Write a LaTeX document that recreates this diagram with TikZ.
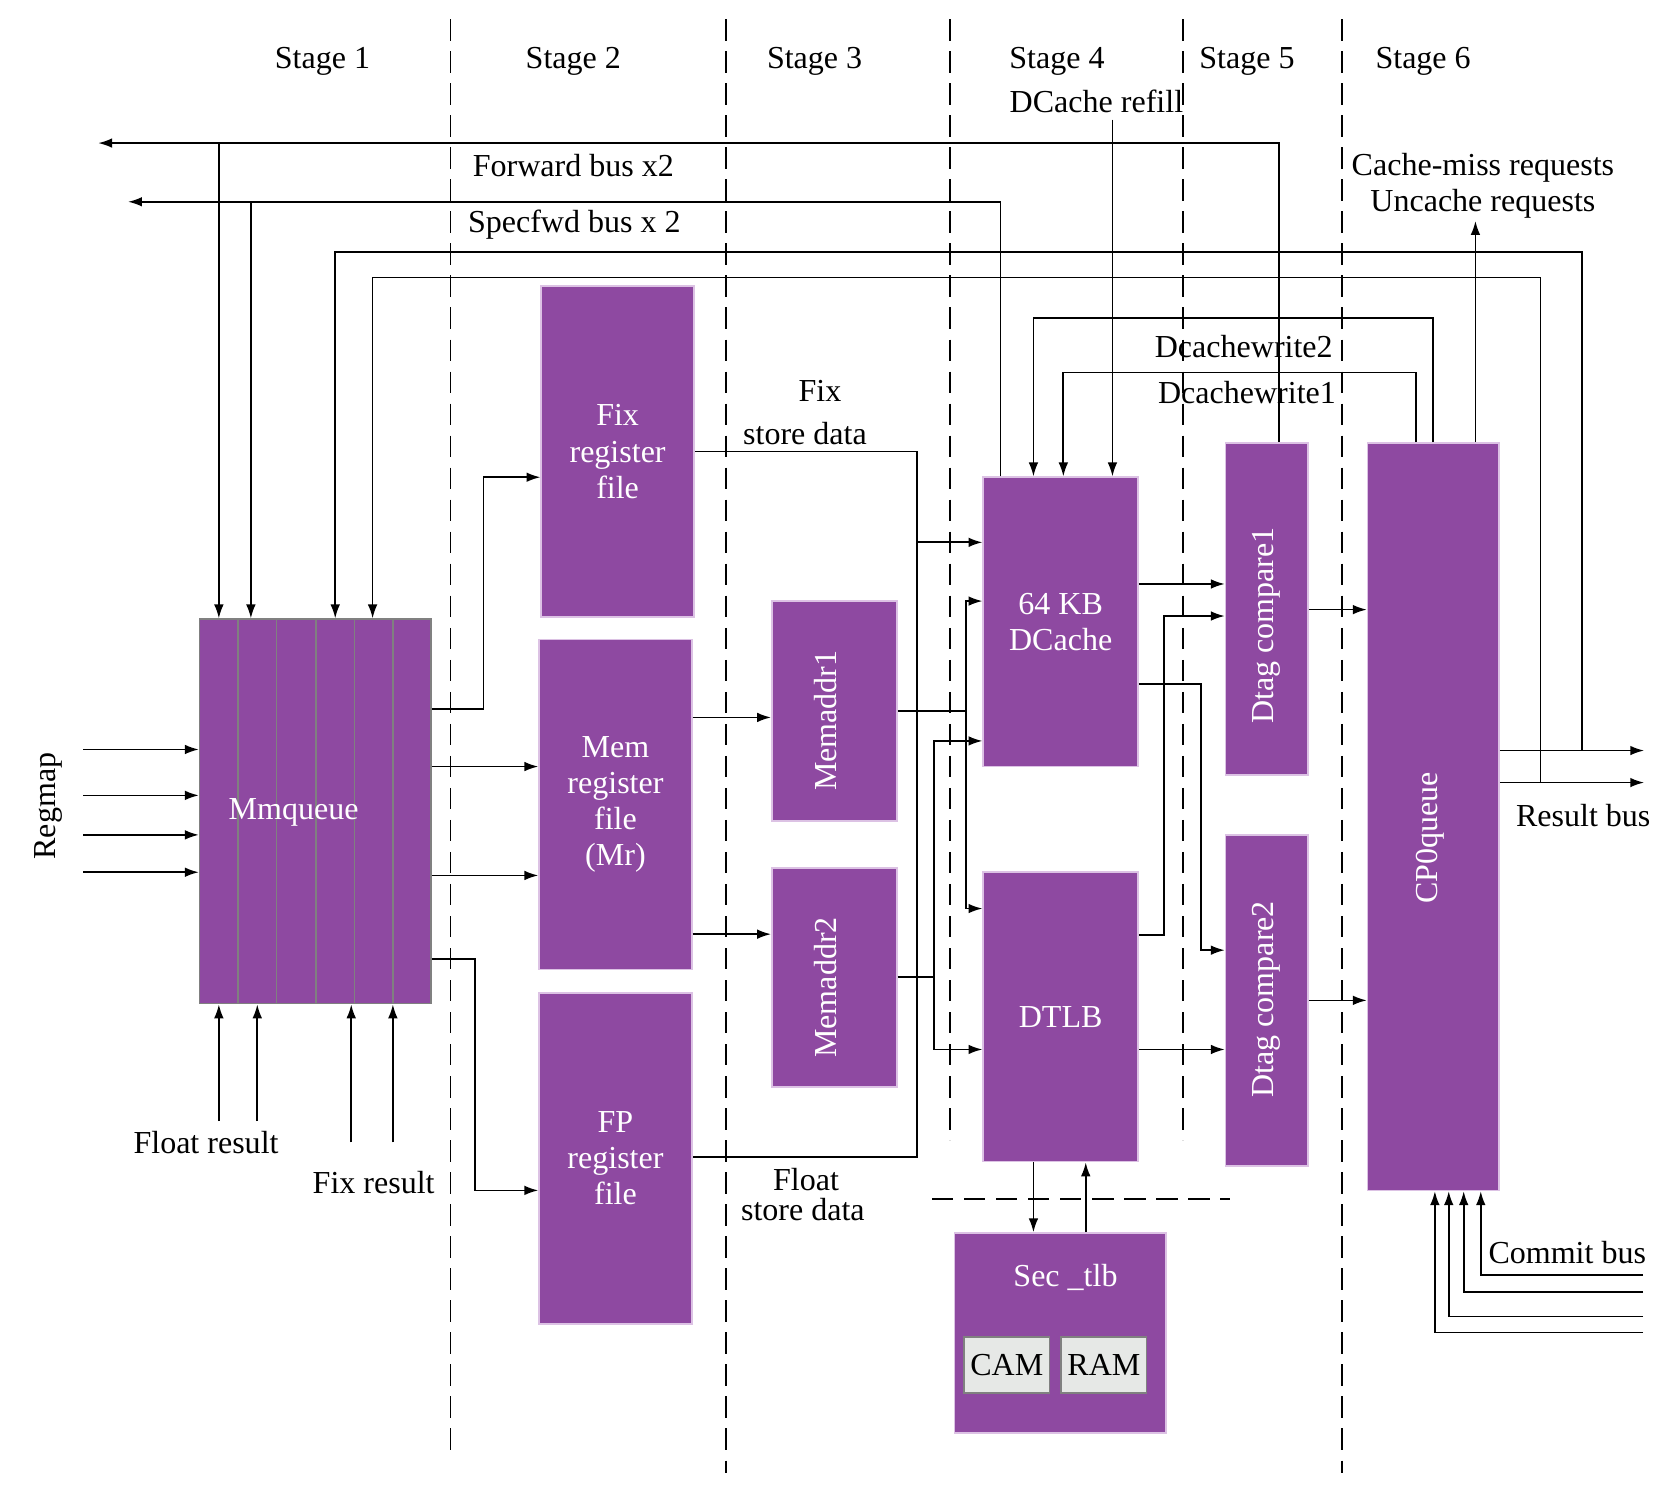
\documentclass[tikz,border=0pt]{standalone}
\usepackage{fontspec}
\setmainfont{Liberation Serif}
\usepackage{graphicx}
\usetikzlibrary{arrows.meta, positioning, calc}
\definecolor{boxpurple}{HTML}{8E49A1}
\definecolor{boxedge}{HTML}{DCC2E4}
\definecolor{cellgray}{HTML}{E6E8E6}

\begin{document}
\begin{tikzpicture}[
    x=0.5pt, y=-0.5pt,
    every node/.style={font=\fontsize{15}{17}\selectfont},
    box/.style 2 args={rectangle, draw=boxedge, line width=0.8pt, fill=boxpurple,
                       text=white, align=center, inner sep=0pt,
                       minimum width=#1*0.5pt, minimum height=#2*0.5pt},
    cell/.style={rectangle, draw=gray, line width=0.8pt, fill=cellgray, inner sep=0pt,
                 minimum width=40pt, minimum height=26.5pt},
    arr/.style={-{Latex[length=6.5pt,width=4.5pt]}, line width=0.8pt},
    wire/.style={line width=0.8pt},
    stagesep/.style={dash pattern=on 10pt off 5pt, line width=0.7pt},
    whitetxt/.style={text=white}
]
\useasboundingbox (0,0) rectangle (1568,1398);

% stage separators
\foreach \x/\yb in {422/1360, 680/1380, 890/1068, 1108/1068, 1257/1380}
    \draw[stagesep] (\x,18) -- (\x,\yb);
\draw[stagesep] (873,1123) -- (1152,1123);

\foreach \n/\x in {1/302, 2/537, 3/763, 4/990, 5/1168, 6/1333}
    \node (stage\n) at (\x,57) {Stage \n};

% blocks
\node[box={217}{360}, draw=gray] (mmq) at (295.5,760) {};
\foreach \x in {223,259,296,332,368}
    \draw[gray, line width=0.8pt] (mmq.north -| \x,0) -- (mmq.south -| \x,0);
\node[whitetxt] (mmqtxt) at (275,761) {Mmqueue};

\node[box={143}{310}] (fixrf)  at (578.5,423)  {Fix\\register\\file};
\node[box={143}{309}] (memrf)  at (576.5,753.5) {Mem\\register\\file\\(Mr)};
\node[box={143}{310}] (fprf)   at (576.5,1085) {FP\\register\\file};
\node[box={117}{206}] (maddr1) at (781.5,666)  {};
\node[box={117}{205}] (maddr2) at (781.5,915.5) {};
\node[box={145}{271}] (dcache) at (993.5,582.5) {64 KB\\DCache};
\node[box={145}{271}] (dtlb)   at (993.5,952.5) {DTLB};
\node[box={77}{311}]  (dtag1)  at (1186.5,570.5) {};
\node[box={77}{310}]  (dtag2)  at (1186.5,937) {};
\node[box={123}{700}] (cp0q)   at (1342.5,765) {};
\node[box={198}{187}] (sectlb) at (993,1248.5) {};
\node[cell] (cam) at (943,1278.5)  {CAM};
\node[cell] (ram) at (1034,1278.5) {RAM};

\node[whitetxt, rotate=90] (maddr1txt) at (773,675) {Memaddr1};
\node[whitetxt, rotate=90] (maddr2txt) at (773,925) {Memaddr2};
\node[whitetxt, rotate=90] (dtag1txt) at (1186,586) {Dtag compare1};
\node[whitetxt, rotate=90] (dtag2txt) at (1186,936) {Dtag compare2};
\node[whitetxt, rotate=90] (cp0qtxt)  at (1340,785) {CP0queue};
\node[whitetxt] (sectlbtxt) at (998,1197) {Sec \_tlb};

% labels
\node (refilltxt) at (1027,95)  {DCache refill};
\node (fwdtxt)    at (537,155)  {Forward bus x2};
\node (spftxt)    at (538,210)  {Specfwd bus x 2};
\node (fixsd1)    at (768,366)  {Fix};
\node (fixsd2)    at (754,406)  {store data};
\node (fltsd1)    at (755,1105) {Float};
\node (fltsd2)    at (752,1133) {store data};
\node (dcw2txt)   at (1165,325) {Dcachewrite2};
\node (dcw1txt)   at (1168,368) {Dcachewrite1};
\node[align=center, font=\fontsize{15}{16.5}\selectfont] (reqtxt) at (1389,174)
    {Cache-miss requests\\Uncache requests};
\node (restxt)    at (1483,764) {Result bus};
\node (committxt) at (1468,1173) {Commit bus};
\node (fltres)    at (193,1070) {Float result};
\node (fixres)    at (350,1108) {Fix result};
\node[rotate=90] (regmaptxt) at (45,755) {Regmap};

% buses at the top
\coordinate (fwdend) at (92,134);
\coordinate (spfend) at (120,189);
\coordinate (fwdtap) at (205,134);
\coordinate (spftap) at (235,189);
\draw[arr] (dtag1.north -| 1198,0) |- (fwdend);
\draw[arr] (dcache.north -| 937,0) |- (spfend);
\draw[arr] (fwdtap) -- (mmq.north -| fwdtap);
\draw[arr] (spftap) -- (mmq.north -| spftap);

% result bus
\coordinate (res1) at (1540,703);
\coordinate (res2) at (1540,733);
\coordinate (restap1) at (1482,703);
\coordinate (restap2) at (1443,733);
\draw[arr] (cp0q.east |- res1) -- (res1);
\draw[arr] (cp0q.east |- res2) -- (res2);
\draw[arr] (restap1) |- (314,236) -- (mmq.north -| 314,0);
\draw[arr] (restap2) |- (349,260) -- (mmq.north -| 349,0);

% dcache writes, refill, requests
\coordinate (refill) at (1042,112);
\coordinate (reqend) at (1382,207);
\draw[arr] (cp0q.north -| 1342,0) |- (968,298) -- (dcache.north -| 968,0);
\draw[arr] (cp0q.north -| 1326,0) |- (996,349) -- (dcache.north -| 996,0);
\draw[arr] (refill) -- (dcache.north -| refill);
\draw[arr] (cp0q.north -| reqend) -- (reqend);

% regmap and results into mmqueue
\foreach \y [count=\i] in {702,745,782,817} {
    \coordinate (rm\i) at (78,\y);
    \draw[arr] (rm\i) -- (mmq.west |- rm\i);
}
\foreach \x/\yb [count=\i] in {205/1050, 241/1050, 329/1070, 368/1070} {
    \coordinate (wb\i) at (\x,\yb);
    \draw[arr] (wb\i) -- (mmq.south -| wb\i);
}

% mmqueue to register files
\draw[arr] (mmq.east |- 0,664) -| (453,447) -- (fixrf.west |- 0,447);
\draw[arr] (mmq.east |- 0,718) -- (memrf.west |- 0,718);
\draw[arr] (mmq.east |- 0,820) -- (memrf.west |- 0,820);
\draw[arr] (mmq.east |- 0,898) -| (445,1115) -- (fprf.west |- 0,1115);

% register files to stage 3/4
\draw[arr] (memrf.east |- 0,672) -- (maddr1.west |- 0,672);
\draw[arr] (memrf.east |- 0,875) -- (maddr2.west |- 0,875);
\draw[wire] (fixrf.east |- 0,423) -| (859,1084) -- (fprf.east |- 0,1084);
\draw[arr] (859,508) -- (dcache.west |- 0,508);

\draw[arr] (maddr1.east |- 0,666) -| (905,563) -- (dcache.west |- 0,563);
\draw[arr] (905,666) |- (dtlb.west |- 0,851);
\draw[arr] (maddr2.east |- 0,915) -| (875,694) -- (dcache.west |- 0,694);
\draw[arr] (875,915) |- (dtlb.west |- 0,983);

% dcache / dtlb to tag compare
\draw[arr] (dcache.east |- 0,547) -- (dtag1.west |- 0,547);
\draw[arr] (dcache.east |- 0,641) -| (1125,890) -- (dtag2.west |- 0,890);
\draw[arr] (dtlb.east |- 0,876) -| (1090,577) -- (dtag1.west |- 0,577);
\draw[arr] (dtlb.east |- 0,983) -- (dtag2.west |- 0,983);
\draw[arr] (dtag1.east |- 0,571) -- (cp0q.west |- 0,571);
\draw[arr] (dtag2.east |- 0,937) -- (cp0q.west |- 0,937);

% dtlb <-> sec_tlb
\draw[arr] (dtlb.south -| 968,0) -- (sectlb.north -| 968,0);
\draw[arr] (sectlb.north -| 1017,0) -- (dtlb.south -| 1017,0);

% commit bus
\foreach \x/\y [count=\i] in {1387/1194, 1371/1210, 1357/1233, 1344/1248} {
    \coordinate (cb\i) at (1539,\y);
    \draw[arr] (cb\i) -| (cp0q.south -| \x,0);
}
\end{tikzpicture}
\end{document}
